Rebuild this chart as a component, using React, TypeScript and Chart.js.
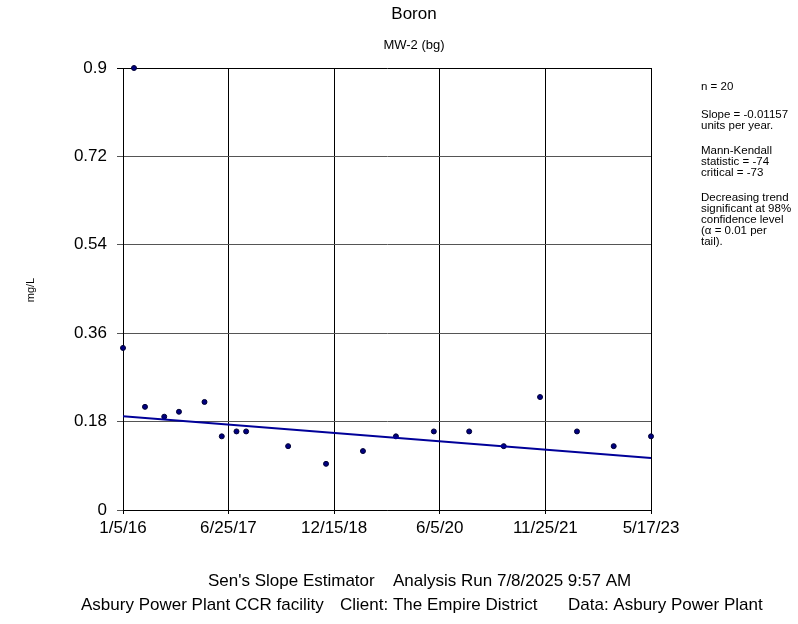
import React, { useEffect, useRef } from "react";
import { Chart, registerables } from "chart.js";

Chart.register(...registerables);

const sampleDates = [
  "2016-01-05", "2016-03-01", "2016-04-26", "2016-08-02", "2016-10-16",
  "2017-02-23", "2017-05-22", "2017-08-05", "2017-09-23", "2018-04-25",
  "2018-11-04", "2019-05-11", "2019-10-26", "2020-05-06", "2020-11-02",
  "2021-04-27", "2021-10-29", "2022-05-05", "2022-11-08", "2023-05-17",
];
const boronValues = [
  0.33, 0.9, 0.21, 0.19, 0.2,
  0.22, 0.15, 0.16, 0.16, 0.13,
  0.094, 0.12, 0.15, 0.16, 0.16,
  0.13, 0.23, 0.16, 0.13, 0.15,
];
const tickDates = ["2016-01-05", "2017-06-25", "2018-12-15", "2020-06-05", "2021-11-25", "2023-05-17"];
const tickLabels = ["1/5/16", "6/25/17", "12/15/18", "6/5/20", "11/25/21", "5/17/23"];
const yTicks = [0, 0.18, 0.36, 0.54, 0.72, 0.9];
const yTickLabels = ["0", "0.18", "0.36", "0.54", "0.72", "0.9"];
const trendDates = ["2016-01-05", "2023-05-17"];
const trendValues = [0.191, 0.106];
const sideNotes = [
  ["n = 20"],
  ["Slope = -0.01157", "units per year."],
  ["Mann-Kendall", "statistic = -74", "critical = -73"],
  ["Decreasing trend", "significant at 98%", "confidence level", "(\u03b1 = 0.01 per", "tail)."],
];
const footerLine1 = ["Sen's Slope Estimator", "Analysis Run 7/8/2025 9:57 AM"];
const footerLine2 = ["Asbury Power Plant CCR facility", "Client: The Empire District", "Data: Asbury Power Plant"];

const FONT = "'Liberation Sans', Arial, sans-serif";
const origin = Date.UTC(2016, 0, 5);
const toDays = (s: string) => {
  const [y, m, d] = s.split("-").map(Number);
  return Math.round((Date.UTC(y, m - 1, d) - origin) / 86400000);
};

const textPlugin = {
  id: "texts",
  afterDraw(chart: any) {
    const ctx = chart.ctx;
    ctx.save();
    ctx.fillStyle = "#000";
    ctx.textBaseline = "middle";
    ctx.textAlign = "center";
    ctx.font = `17px ${FONT}`;
    ctx.fillText("Boron", 414, 14);
    ctx.font = `13px ${FONT}`;
    ctx.fillText("MW-2 (bg)", 414, 45);
    ctx.textAlign = "left";
    ctx.font = `17px ${FONT}`;
    const l1x = [208, 393];
    footerLine1.forEach((t, i) => ctx.fillText(t, l1x[i], 581));
    const l2x = [81, 340, 568];
    footerLine2.forEach((t, i) => ctx.fillText(t, l2x[i], 605));
    // y title
    ctx.save();
    ctx.translate(31, 290);
    ctx.rotate(-Math.PI / 2);
    ctx.textAlign = "center";
    ctx.font = `11px ${FONT}`;
    ctx.fillText("mg/L", 0, 0);
    ctx.restore();
    // side notes
    ctx.textAlign = "left";
    ctx.font = `11.5px ${FONT}`;
    let y = 87;
    sideNotes.forEach((block, bi) => {
      block.forEach((line) => {
        ctx.fillText(line, 701, y);
        y += 11;
      });
      y += bi === 0 ? 17 : 14;
    });
    ctx.restore();
  },
};

export default function App() {
  const ref = useRef<HTMLCanvasElement>(null);
  useEffect(() => {
    if (!ref.current) return;
    const pts = sampleDates.map((d, i) => ({ x: toDays(d), y: boronValues[i] }));
    const trend = trendDates.map((d, i) => ({ x: toDays(d), y: trendValues[i] }));
    const xTickVals = tickDates.map(toDays);
    const chart = new Chart(ref.current, {
      type: "scatter",
      data: {
        datasets: [
          {
            type: "line",
            data: trend,
            borderColor: "#000099",
            borderWidth: 2,
            pointRadius: 0,
            fill: false,
          } as any,
          {
            data: pts,
            backgroundColor: "#000080",
            borderColor: "#000033",
            borderWidth: 1,
            pointRadius: 2.5,
            clip: false,
          } as any,
        ],
      },
      options: {
        animation: false,
        responsive: false,
        layout: { padding: { left: 0, right: 147, top: 68, bottom: 0 } },
        plugins: { legend: { display: false }, tooltip: { enabled: false } },
        scales: {
          x: {
            type: "linear",
            min: xTickVals[0],
            max: xTickVals[xTickVals.length - 1],
            afterBuildTicks: (s: any) => {
              s.ticks = xTickVals.map((v) => ({ value: v }));
            },
            afterFit: (s: any) => {
              s.height = 114;
            },
            ticks: {
              callback: (_v: any, i: number) => tickLabels[i],
              color: "#000",
              font: { family: FONT, size: 17 },
              padding: 4,
              maxRotation: 0,
              autoSkip: false,
            },
            grid: { color: "#000", lineWidth: 1, tickLength: 4, drawTicks: true },
            border: { color: "#000", width: 1 },
          },
          y: {
            min: 0,
            max: 0.9,
            afterBuildTicks: (s: any) => {
              s.ticks = yTicks.map((v) => ({ value: v }));
            },
            afterFit: (s: any) => {
              s.width = 123;
            },
            ticks: {
              callback: (_v: any, i: number) => yTickLabels[i],
              color: "#000",
              font: { family: FONT, size: 17 },
              padding: 10,
            },
            grid: {
              color: (c: any) => (c.index === yTicks.length - 1 ? "#000" : "#555"),
              lineWidth: 1,
              tickLength: 6,
            },
            border: { color: "#000", width: 1 },
          },
        },
      },
      plugins: [textPlugin],
    });
    return () => chart.destroy();
  }, []);
  return (
    <div style={{ position: "fixed", left: 0, top: 0, width: 798, height: 624, background: "#fff" }}>
      <canvas ref={ref} width={798} height={624} style={{ display: "block" }} />
    </div>
  );
}
